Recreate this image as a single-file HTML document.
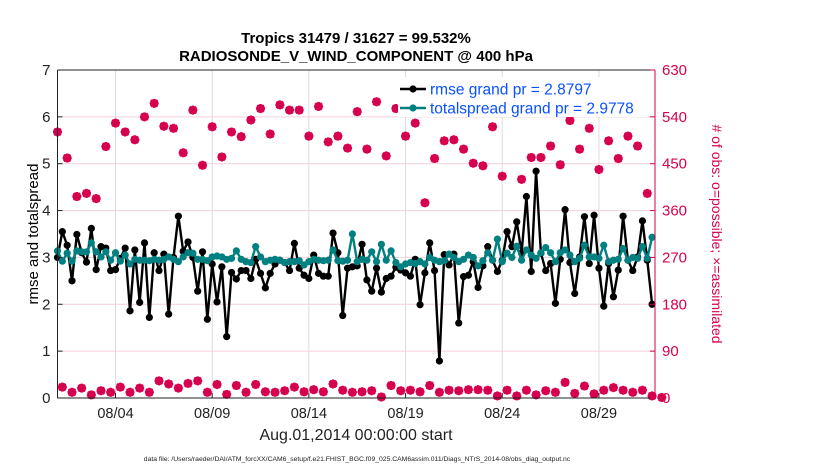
<!DOCTYPE html>
<html><head><meta charset="utf-8"><style>
body{margin:0;background:#fff;}
svg{display:block;font-family:"Liberation Sans",Arial,sans-serif;}
</style></head><body>
<svg id="chart" width="830" height="470">
<g id="grid"></g>
<g id="marks"></g>
<g id="axes"></g>
<text x="356" y="43" text-anchor="middle" font-size="15" font-weight="bold">Tropics 31479 / 31627 = 99.532%</text>
<text x="356" y="61" text-anchor="middle" font-size="15" font-weight="bold">RADIOSONDE_V_WIND_COMPONENT @ 400 hPa</text>
<text transform="translate(38,234) rotate(-90)" text-anchor="middle" font-size="15">rmse and totalspread</text>
<text transform="translate(712,234) rotate(90)" text-anchor="middle" font-size="14" fill="#d6004f"># of obs: o=possible; ×=assimilated</text>
<text x="356" y="440" text-anchor="middle" font-size="16" fill="#222">Aug.01,2014 00:00:00 start</text>
<text x="357" y="461" text-anchor="middle" font-size="6.8" fill="#222">data file: /Users/raeder/DAI/ATM_forcXX/CAM6_setup/f.e21.FHIST_BGC.f09_025.CAM6assim.011/Diags_NTrS_2014-08/obs_diag_output.nc</text>
<g id="legend"></g>
</svg>
<script>
const rmse=[3.0,3.55,3.26,2.5,3.49,3.1,2.9,3.62,2.74,3.23,3.2,2.72,2.74,2.98,3.2,1.86,3.16,2.04,3.31,1.72,3.1,2.72,3.07,1.79,3.0,3.88,3.13,3.33,3.0,2.28,3.12,1.68,2.86,2.05,2.8,1.31,2.68,2.54,2.72,2.72,2.55,2.96,2.66,
2.35,2.66,2.86,2.94,2.89,2.72,3.3,2.77,2.62,2.55,3.05,2.66,2.6,2.6,3.52,3.1,1.76,2.77,2.8,2.82,3.28,2.52,2.28,2.77,2.26,2.55,2.6,2.79,2.73,2.67,2.6,2.96,1.99,2.67,3.31,2.72,0.79,3.06,2.84,3.07,1.6,
2.59,2.62,2.91,2.36,2.82,3.23,2.94,2.7,2.94,3.55,3.23,3.76,3.09,4.3,2.7,4.84,3.09,2.72,2.87,2.02,2.96,4.02,2.89,2.23,3.01,3.87,2.87,3.9,2.77,1.96,2.87,2.16,2.73,3.88,2.94,2.72,3.01,3.78,2.94,2.0];
const spread=[3.14,2.92,3.09,2.92,3.14,3.12,3.12,3.31,3.12,3.01,3.12,2.94,3.1,2.92,3.05,2.86,2.96,2.94,2.94,2.93,2.96,2.94,2.96,3.01,2.96,2.91,3.01,3.1,3.09,2.96,2.96,2.93,3.01,3.03,3.01,2.96,2.98,3.14,2.96,2.91,2.89,3.23,3.01,
2.91,2.94,2.96,2.94,2.89,2.91,2.91,2.93,2.84,2.91,2.96,2.94,2.93,2.94,3.16,2.93,2.92,2.94,3.5,2.91,2.96,2.94,3.12,2.91,3.28,2.94,3.14,2.89,2.8,2.86,2.89,2.87,2.91,2.86,3.0,2.94,2.91,2.93,3.07,3.0,2.91,
2.96,3.05,3.0,2.82,2.93,3.1,2.94,3.39,2.91,3.09,3.0,3.24,2.94,3.16,3.05,2.98,3.1,3.21,3.1,2.91,3.1,3.16,3.05,2.91,2.98,3.26,3.01,3.01,2.98,3.26,2.91,2.94,2.96,3.19,2.94,3.0,2.98,3.23,2.98,3.43];
const obsMain=[511,461,387,393,383,483,528,511,496,540,566,522,518,471,553,447,521,463,511,502,534,556,507,563,553,553,503,560,492,503,480,550,478,569,465,556,503,528,375,460,494,496,478,451,446,521,426,579,420,462,462,484,448,533,478,518,439,494,460,503,484,393];
const obsOff=[21,11,19,6,14,11,21,11,19,11,33,27,19,28,33,11,26,7,24,11,26,12,11,14,21,12,16,12,27,15,11,12,14,2,24,14,15,12,24,11,15,14,16,16,15,4,15,4,15,6,14,11,30,9,23,8,15,20,15,11,15,4,1];
const xTickLabels=["08/04","08/09","08/14","08/19","08/24","08/29"];
const xTickDays=[3,8,13,18,23,28];
const yLeftTicks=[0,1,2,3,4,5,6,7];
const yRightTicks=[0,90,180,270,360,450,540,630];

const NS="http://www.w3.org/2000/svg";
const L=57.5,R=655,T=70,B=398;
const xS=d=>L+(d/30.9)*(R-L);
const yL=v=>B-(v/7)*(B-T);
const yR=v=>B-(v/630)*(B-T);
function mk(tag,attrs,parent){const e=document.createElementNS(NS,tag);for(const k in attrs)e.setAttribute(k,attrs[k]);parent.appendChild(e);return e;}
const grid=document.getElementById('grid'),marks=document.getElementById('marks'),axes=document.getElementById('axes'),leg=document.getElementById('legend');
const MAG="#d6004f";
xTickDays.forEach((d,i)=>{const l=mk('line',{x1:xS(d),x2:xS(d),y1:T,y2:B,stroke:'#dcdcdc','stroke-width':1},grid);

});
yRightTicks.forEach(v=>{if(v===0||v===630)return;const l=mk('line',{x1:L,x2:R,y1:yR(v),y2:yR(v),stroke:'#f3cfdc','stroke-width':1},grid);

});
function obsMark(x,y,nm){const g=mk('g',{},marks);


mk('circle',{cx:x,cy:y,r:3.6,fill:'none',stroke:MAG,'stroke-width':1.5},g);
const s=4.5;
mk('path',{d:`M${x-s} ${y}H${x+s}M${x} ${y-s}V${y+s}M${x-3.3} ${y-3.3}L${x+3.3} ${y+3.3}M${x-3.3} ${y+3.3}L${x+3.3} ${y-3.3}`,stroke:MAG,'stroke-width':2.2,fill:'none'},g);}
obsMain.forEach((v,j)=>obsMark(xS(j*0.5),yR(v),'obs-count-point'));
obsOff.forEach((v,k)=>obsMark(xS(0.25+k*0.5),yR(v),'obs-count-offhour-point'));
function series(arr,color,nm){
const pts=arr.map((v,i)=>[xS(i*0.25),yL(v)]);
const p=mk('polyline',{points:pts.map(p=>p.join(',')).join(' '),fill:'none',stroke:color,'stroke-width':2.4,'stroke-linejoin':'round'},marks);


pts.forEach(q=>{const c=mk('circle',{cx:q[0],cy:q[1],r:3.6,fill:color},marks);

});}
series(rmse,'#000','rmse');
series(spread,'#008080','totalspread');
mk('line',{x1:L,x2:R,y1:T,y2:T,stroke:'#222','stroke-width':1},axes);
mk('line',{x1:L,x2:R,y1:B,y2:B,stroke:'#222','stroke-width':1},axes);
mk('line',{x1:L,x2:L,y1:T,y2:B,stroke:'#222','stroke-width':1},axes);
mk('line',{x1:R,x2:R,y1:T,y2:B,stroke:MAG,'stroke-width':1},axes);
yLeftTicks.forEach(v=>{mk('line',{x1:L,x2:L+5,y1:yL(v),y2:yL(v),stroke:'#222'},axes);
const t=mk('text',{x:L-7,y:yL(v)+5,'text-anchor':'end','font-size':15,fill:'#222'},axes);t.textContent=v;

});
yRightTicks.forEach(v=>{mk('line',{x1:R-5,x2:R,y1:yR(v),y2:yR(v),stroke:MAG},axes);
const t=mk('text',{x:R+7,y:yR(v)+5,'font-size':15,fill:MAG},axes);t.textContent=v;

});
xTickDays.forEach((d,i)=>{mk('line',{x1:xS(d),x2:xS(d),y1:B,y2:B-5,stroke:'#222'},axes);
const t=mk('text',{x:xS(d),y:418,'text-anchor':'middle','font-size':14.5,fill:'#222'},axes);t.textContent=xTickLabels[i];

});
mk('rect',{x:398,y:77,width:250,height:40,fill:'#fff'},leg);
[['#000','rmse grand pr = 2.8797',89],['#008080','totalspread grand pr = 2.9778',108]].forEach(e=>{
mk('line',{x1:400,x2:426,y1:e[2],y2:e[2],stroke:e[0],'stroke-width':2.4},leg);
mk('circle',{cx:413,cy:e[2],r:3.6,fill:e[0]},leg);
const t=mk('text',{x:430,y:e[2]+5.5,'font-size':15.5,fill:'#0a50ff'},leg);t.textContent=e[1];

});
</script>
</body></html>
